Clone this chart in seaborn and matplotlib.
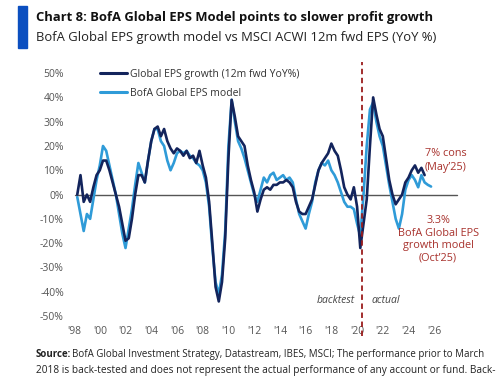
import numpy as np
import pandas as pd
import matplotlib
matplotlib.use("Agg")
import matplotlib.pyplot as plt
import matplotlib.transforms as mtransforms
from matplotlib.patches import Rectangle
from matplotlib.lines import Line2D
import seaborn as sns

# ---- data (quarterly, starting 1998.25) ----
model_start = 1998.25
model_vals = [-1, -8, -15, -8, -10, -2, 6, 12, 20, 18, 12, 6, 0, -8, -16, -22,
              -14, -6, 4, 13, 9, 5, 14, 22, 27, 27, 22, 20, 14, 10, 13, 17,
              18, 17, 18, 16, 15, 13, 12, 10, 5, -5, -22, -36, -41, -33, -15, 20,
              39, 30, 22, 19, 15, 10, 5, 0, -3, 2, 7, 5, 8, 9, 6, 7,
              8, 6, 7, 5, -2, -8, -11, -14, -8, -3, 5, 10, 13, 12, 14, 10,
              8, 5, 1, -3, -5, -5, -6, -12, -17, 0, 20, 35, 38, 30, 24, 20,
              12, 4, -3, -10, -14, -8, 2, 6, 8, 6, 3, 8, 5, 4, 3.3]
actual_start = 1998.25
actual_vals = [0, 8, -3, 0, -3, 3, 8, 10, 14, 14, 10, 5, 0, -5, -12, -19,
               -18, -10, 0, 8, 8, 5, 14, 22, 27, 28, 24, 27, 22, 19, 17, 19,
               18, 16, 18, 15, 16, 13, 18, 12, 7, -3, -20, -38, -44, -36, -18, 15,
               39, 32, 24, 22, 20, 12, 6, 1, -7, -2, 2, 3, 2, 4, 4, 5,
               5, 6, 5, 3, -3, -7, -8, -8, -5, -2, 4, 10, 13, 15, 17, 21,
               18, 16, 10, 3, 0, -2, 3, -5, -22, -12, -2, 20, 40, 33, 27, 24,
               15, 6, 0, -4, -2, 0, 5, 7, 10, 12, 9, 11, 8]
series_names = ["Global EPS growth (12m fwd YoY%)", "BofA Global EPS model"]
xtick_years = list(range(1998, 2027, 2))
xtick_labels = ["'%02d" % (y % 100) for y in xtick_years]
ytick_vals = list(range(-50, 51, 10))
ytick_labels = ["%d%%" % v for v in ytick_vals]
split_year = 2020.4

t_model = model_start + 0.25 * np.arange(len(model_vals))
t_actual = actual_start + 0.25 * np.arange(len(actual_vals))
df = pd.concat([
    pd.DataFrame({"t": t_actual, "v": actual_vals, "s": series_names[0]}),
    pd.DataFrame({"t": t_model, "v": model_vals, "s": series_names[1]}),
])

sns.set_theme(style="white")
plt.rcParams['font.family'] = ['Open Sans', 'DejaVu Sans']

fig = plt.figure(figsize=(5.0, 3.77), dpi=100)
ax = fig.add_axes([0.136, 0.1424, 0.784, 0.683])

dark = "#13245c"
light = "#2f9bd8"
sns.lineplot(data=df, x="t", y="v", hue="s", hue_order=series_names[::-1],
             palette={series_names[0]: dark, series_names[1]: light},
             linewidth=1.9, ax=ax, legend=False)
for l in ax.lines:
    l.set_zorder(3 if l.get_color() == dark else 2)

ax.set_xlim(1997.53, 2028.0)
ax.set_ylim(-53, 53)
for s in ax.spines.values():
    s.set_visible(False)
ax.set_xticks(xtick_years)
ax.set_xticklabels(xtick_labels)
ax.set_yticks(ytick_vals)
ax.set_yticklabels(ytick_labels)
ax.tick_params(axis='both', length=0, labelsize=7.5, colors="#555555")
ax.tick_params(axis='x', pad=2)
ax.tick_params(axis='y', pad=3)
ax.set_xlabel("")
ax.set_ylabel("")

# zero line
ax.plot([1998.07, 2027.8], [0, 0], color="#555555", lw=1.0, zorder=1)

# dashed split line
trans = mtransforms.blended_transform_factory(ax.transData, ax.transAxes)
ax.plot([split_year, split_year], [-0.05, 1.015], transform=trans,
        color="#9b1c1c", lw=1.3, ls=(0, (3, 2)), clip_on=False, zorder=4)
ax.text(split_year - 0.6, -43.5, "backtest", ha="right", va="center",
        fontsize=7.5, style="italic", color="#444444")
ax.text(split_year + 0.7, -43.5, "actual", ha="left", va="center",
        fontsize=7.5, style="italic", color="#444444")

# legend
handles = [Line2D([0], [0], color=dark, lw=2.2), Line2D([0], [0], color=light, lw=2.2)]
leg = ax.legend(handles, series_names, loc="upper left", bbox_to_anchor=(0.07, 1.005),
                frameon=False, fontsize=7.5, handlelength=2.6, handletextpad=0.3,
                labelspacing=0.75, borderaxespad=0)
for t in leg.get_texts():
    t.set_color("#333333")

red = "#a8322d"
ax.text(2026.9, 14, "7% cons\n(May\u201925)", ha="center", va="center",
        fontsize=7.8, color=red, linespacing=1.3)
ax.text(2026.3, -18.5, "3.3%\nBofA Global EPS\ngrowth model\n(Oct\u201925)", ha="center",
        va="center", fontsize=7.8, color=red, linespacing=1.2)

# header
fig.patches.append(Rectangle((18 / 500, 1 - 48 / 377), 9 / 500, 42 / 377,
                             transform=fig.transFigure, color="#0b4fc0", zorder=5))
fig.text(36 / 500, 1 - 17 / 377, "Chart 8: BofA Global EPS Model points to slower profit growth",
         fontsize=9.4, fontweight="bold", color="#111111", va="center", ha="left")
fig.text(36 / 500, 1 - 38 / 377, "BofA Global EPS growth model vs MSCI ACWI 12m fwd EPS (YoY %)",
         fontsize=9.35, color="#222222", va="center", ha="left")

# source
src = fig.text(36 / 500, 1 - 357 / 377, "Source:", fontsize=7.0, fontweight="bold",
               color="#222222", va="baseline", ha="left")
ax.annotate("BofA Global Investment Strategy, Datastream, IBES, MSCI; The performance prior to March",
            xy=(1, 0), xycoords=src, xytext=(0.8, 0), textcoords="offset points",
            fontsize=7.0, color="#222222", va="bottom", ha="left", annotation_clip=False)
fig.text(36 / 500, 1 - 370 / 377,
         "2018 is back-tested and does not represent the actual performance of any account or fund. Back-",
         fontsize=7.25, color="#222222", va="center", ha="left")

fig.savefig("out.png", dpi=100)
